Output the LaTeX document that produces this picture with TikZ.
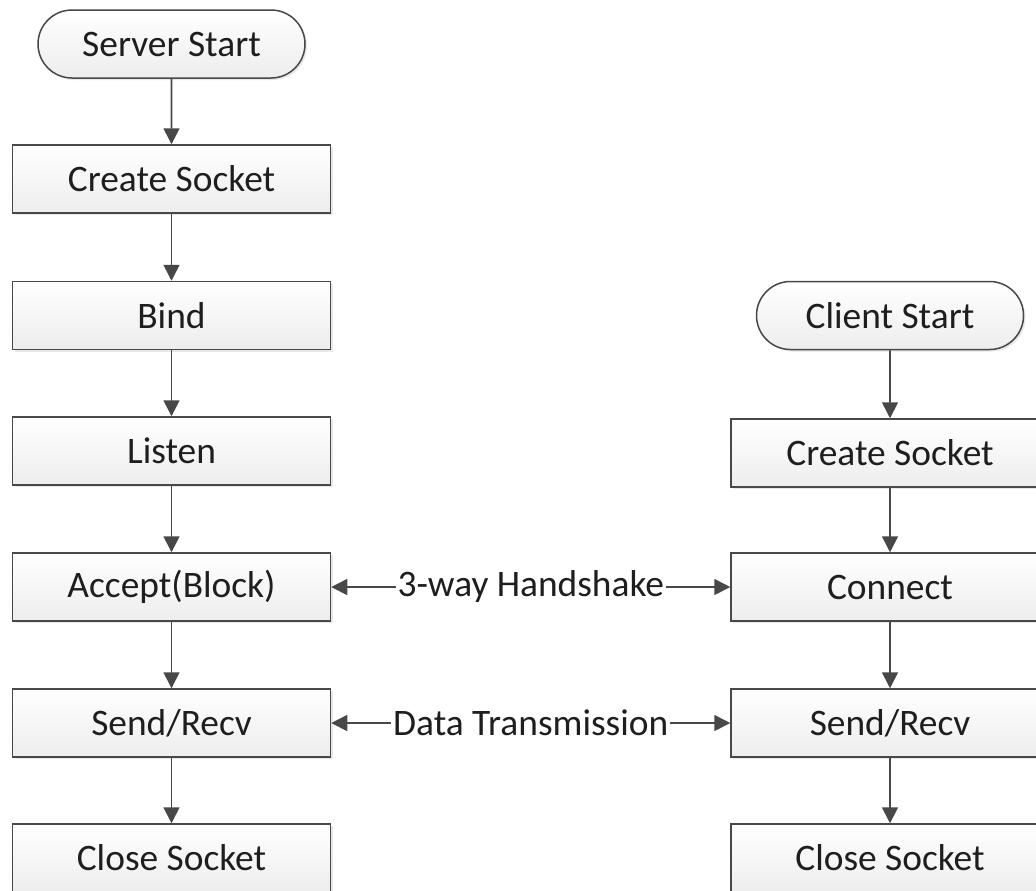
\documentclass[tikz,border=0pt]{standalone}
\usepackage{fontspec}
\setmainfont{Carlito}
\usetikzlibrary{arrows.meta,shapes.misc,shadows}
\definecolor{linegray}{HTML}{484848}
\definecolor{textgray}{HTML}{1E1E1E}
\begin{document}
\begin{tikzpicture}[x=0.5pt,y=-0.5pt,
    font=\fontsize{18.7}{22}\selectfont, text=textgray,
    stepbox/.style={draw=linegray, line width=0.75pt, rectangle,
        minimum width=159pt, minimum height=34pt, inner sep=0pt,
        top color=white, bottom color=gray!14,
        drop shadow={shadow xshift=1pt, shadow yshift=-1pt, opacity=0.18}},
    startbox/.style={stepbox, rounded rectangle, minimum width=133.5pt},
    flow/.style={draw=linegray, line width=0.8pt},
    >={Triangle[length=8pt,width=8pt]}]
    \clip (0,0) rectangle (1036,890);
    \fill[white] (0,0) rectangle (1036,890);

    % server side
    \node[startbox] (sstart) at (171.5,44) {Server Start};
    \node[stepbox] (screate) at (171.5,179) {Create Socket};
    \node[stepbox] (sbind) at (171.5,315.5) {Bind};
    \node[stepbox] (slisten) at (171.5,451) {Listen};
    \node[stepbox] (saccept) at (171.5,587) {Accept(Block)};
    \node[stepbox] (ssend) at (171.5,723) {Send/Recv};
    \node[stepbox] (sclose) at (171.5,858) {Close Socket};

    % client side
    \node[startbox] (cstart) at (890,315.5) {Client Start};
    \node[stepbox] (ccreate) at (890,453) {Create Socket};
    \node[stepbox] (cconnect) at (890,587) {Connect};
    \node[stepbox] (csend) at (890,723) {Send/Recv};
    \node[stepbox] (cclose) at (890,858) {Close Socket};

    \draw[flow,->] (sstart) to (screate); \draw[flow,->] (screate) to (sbind); \draw[flow,->] (sbind) to (slisten);
    \draw[flow,->] (slisten) to (saccept); \draw[flow,->] (saccept) to (ssend); \draw[flow,->] (ssend) to (sclose);
    \draw[flow,->] (cstart) to (ccreate); \draw[flow,->] (ccreate) to (cconnect);
    \draw[flow,->] (cconnect) to (csend); \draw[flow,->] (csend) to (cclose);

    \draw[flow,<->] (saccept) to node[fill=white, inner sep=1pt] {3-way Handshake} (cconnect);
    \draw[flow,<->] (ssend) to node[fill=white, inner sep=1pt] {Data Transmission} (csend);
\end{tikzpicture}
\end{document}
